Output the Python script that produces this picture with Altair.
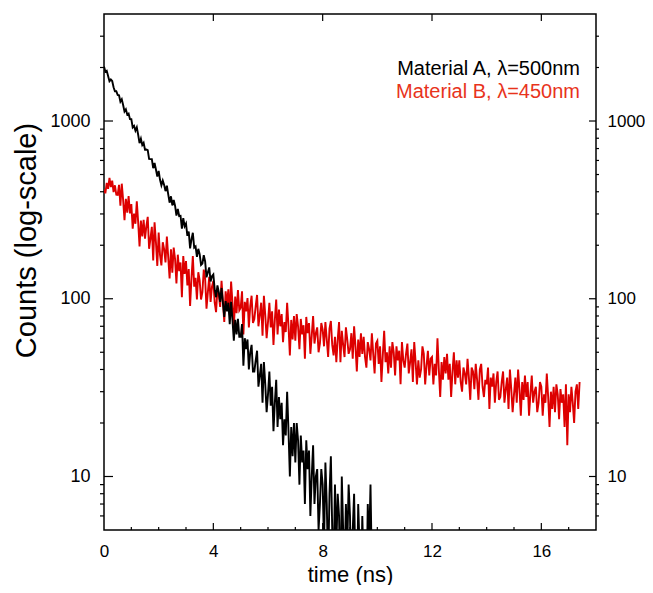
import altair as alt
import pandas as pd

# ---------------- data ----------------
TIME_STEP_NS = 0.05  # channel width of the decay histograms

# Material A, lambda = 500 nm (black), t = 0 ... 9.8 ns
black_counts = [
    2024, 1893, 1918, 1793, 1675, 1711, 1679, 1550, 1470, 1470,
    1402, 1396, 1285, 1324, 1230, 1131, 1163, 1089, 1102, 1025,
    1024, 920, 938, 882, 921, 837, 751, 795, 733, 754,
    690, 691, 686, 612, 610, 610, 543, 580, 534, 487,
    524, 467, 435, 462, 437, 403, 433, 387, 347, 377,
    335, 359, 334, 294, 320, 292, 293, 248, 284, 256,
    265, 226, 239, 192, 216, 235, 194, 197, 172, 191,
    178, 155, 158, 176, 162, 132, 141, 150, 125, 134,
    137, 113, 102, 119, 109, 96, 115, 95, 79, 97,
    85, 95, 72, 96, 76, 58, 76, 63, 77, 61,
    61, 72, 42, 60, 52, 59, 40, 50, 55, 39,
    39, 45, 51, 32, 37, 43, 26, 44, 33, 23,
    29, 39, 25, 32, 18, 26, 35, 19, 28, 21,
    26, 15, 21, 17, 30, 18, 10, 19, 13, 20,
    12, 20, 16, 9, 17, 12, 14, 7, 16, 11,
    14, 6, 10, 15, 7, 10, 11, 5, 7, 11,
    9, 4, 12, 7, 3, 8, 13, 5, 3, 9,
    4, 8, 6, 2, 10, 5, 3, 7, 4, 9,
    6, 2, 5, 8, 3, 2, 7, 4, 2, 6,
    3, 5, 2, 7, 4, 9, 3,
]

# Material B, lambda = 450 nm (red), t = 0 ... 17.4 ns
red_counts = [
    412, 392, 448, 415, 478, 425, 462, 398, 435, 385,
    384, 437, 334, 444, 360, 277, 365, 305, 378, 302,
    341, 248, 301, 264, 353, 270, 197, 275, 224, 278,
    218, 256, 289, 191, 218, 254, 164, 269, 208, 153,
    236, 176, 154, 208, 190, 160, 224, 171, 130, 190,
    140, 194, 167, 122, 177, 143, 160, 102, 174, 138,
    163, 119, 147, 91, 130, 174, 117, 131, 99, 141,
    127, 99, 109, 146, 130, 88, 109, 133, 96, 117,
    126, 95, 84, 114, 105, 90, 126, 97, 74, 110,
    93, 113, 81, 125, 95, 68, 103, 83, 112, 86,
    89, 110, 63, 96, 85, 101, 69, 91, 104, 73,
    77, 91, 105, 70, 81, 95, 62, 104, 81, 60,
    74, 95, 69, 85, 55, 76, 99, 63, 87, 70,
    82, 57, 74, 65, 95, 70, 48, 76, 59, 80,
    58, 82, 70, 52, 77, 63, 71, 46, 79, 64,
    73, 49, 62, 80, 56, 64, 69, 50, 56, 73,
    67, 54, 74, 59, 47, 68, 75, 55, 48, 61,
    44, 59, 74, 44, 66, 55, 47, 69, 59, 49,
    52, 64, 46, 70, 54, 39, 59, 47, 64, 49,
    61, 47, 41, 57, 52, 45, 64, 49, 38, 56,
    58, 43, 54, 34, 48, 66, 44, 50, 38, 54,
    41, 57, 50, 37, 54, 45, 51, 33, 57, 45,
    41, 49, 56, 38, 44, 52, 34, 57, 44, 33,
    45, 36, 40, 54, 49, 33, 42, 51, 37, 46,
    47, 33, 43, 37, 60, 40, 28, 44, 35, 47,
    38, 49, 35, 43, 28, 39, 50, 33, 45, 36,
    45, 34, 30, 41, 38, 33, 46, 36, 27, 41,
    39, 31, 43, 35, 27, 40, 43, 32, 28, 35,
    33, 41, 24, 36, 32, 38, 26, 34, 39, 27,
    28, 34, 39, 26, 31, 36, 24, 40, 31, 23,
    29, 36, 26, 40, 31, 22, 34, 27, 37, 28,
    34, 22, 29, 37, 26, 30, 32, 23, 26, 34,
    32, 22, 29, 26, 38, 28, 19, 30, 24, 32,
    23, 33, 29, 21, 31, 26, 29, 19, 33, 15,
    29, 23, 32, 26, 20, 30, 33, 24, 34,
]

series_labels = ["Material A, \u03bb=500nm", "Material B, \u03bb=450nm"]

x_major = [0, 4, 8, 12, 16]
x_major_inner = [4, 8, 12, 16]
x_minor = [1, 2, 3, 5, 6, 7, 9, 10, 11, 13, 14, 15, 17]
y_major = [10, 100, 1000]
y_minor = [6, 7, 8, 9, 20, 30, 40, 50, 60, 70, 80, 90,
           200, 300, 400, 500, 600, 700, 800, 900, 2000, 3000]

# ---------------- chart ----------------
W, H = 492, 516
FONT = "Liberation Sans"
RED_LINE = "#dd0000"
RED_TEXT = "#e8331c"

xscale = alt.Scale(domain=[0, 18], nice=False, zero=False)
yscale = alt.Scale(type="log", domain=[5, 4000], nice=False)

black_df = pd.DataFrame({
    "t": [round(i * TIME_STEP_NS, 2) for i in range(len(black_counts))],
    "counts": black_counts,
})
red_df = pd.DataFrame({
    "t": [round(i * TIME_STEP_NS, 2) for i in range(len(red_counts))],
    "counts": red_counts,
})

red = alt.Chart(red_df).mark_line(color=RED_LINE, strokeWidth=1.9, clip=True).encode(
    x=alt.X("t:Q", scale=xscale, axis=None),
    y=alt.Y("counts:Q", scale=yscale,
            axis=alt.Axis(orient="right", values=y_major, format="d", title=None,
                          labelPadding=11, labelFontSize=17)),
)

black = alt.Chart(black_df).mark_line(color="black", strokeWidth=1.9, clip=True).encode(
    x=alt.X("t:Q", scale=xscale,
            axis=alt.Axis(orient="bottom", values=x_major, format="d", title="time (ns)",
                          labelPadding=13, labelFontSize=17, labelFlush=False,
                          titleY=44, titleBaseline="middle", titleFontSize=22)),
    y=alt.Y("counts:Q", scale=yscale,
            axis=alt.Axis(orient="left", values=y_major, format="d",
                          title="Counts (log-scale)", labelPadding=14,
                          titleX=-78, titleY=226, titleAngle=270,
                          titleAlign="center", titleBaseline="middle",
                          titleFontSize=29)),
)


def yticks(vals, x0, x1):
    return alt.Chart(pd.DataFrame({"v": vals})).mark_rule(color="black", strokeWidth=1.2).encode(
        y=alt.Y("v:Q", scale=yscale, axis=None), x=alt.value(x0), x2=alt.value(x1))


def xticks(vals, y0, y1):
    return alt.Chart(pd.DataFrame({"v": vals})).mark_rule(color="black", strokeWidth=1.2).encode(
        x=alt.X("v:Q", scale=xscale, axis=None), y=alt.value(y0), y2=alt.value(y1))


ticks = [
    yticks(y_major, 0, 9),
    yticks(y_minor, -4, 0),
    yticks(y_major, W - 7, W),
    yticks(y_minor, W, W + 3),
    xticks(x_major_inner, H - 7, H),
    xticks(x_minor, H - 3, H),
    xticks(x_major_inner, 0, 7),
]

label_a = alt.Chart(pd.DataFrame({"label": [series_labels[0]]})).mark_text(
    align="right", baseline="middle", font=FONT, fontSize=20, color="black"
).encode(x=alt.value(476), y=alt.value(55), text="label:N")

label_b = alt.Chart(pd.DataFrame({"label": [series_labels[1]]})).mark_text(
    align="right", baseline="middle", font=FONT, fontSize=20, color=RED_TEXT
).encode(x=alt.value(476), y=alt.value(78), text="label:N")

chart = alt.layer(red, black, *ticks, label_a, label_b).resolve_axis(
    x="independent", y="independent"
).properties(
    width=W, height=H,
    autosize=alt.AutoSizeParams(type="none"),
    padding={"left": 96, "top": 6, "right": 49, "bottom": 55},
).configure_view(
    stroke="black", strokeWidth=1.5
).configure_axis(
    domain=False, grid=False, ticks=False, tickSize=0,
    labelFont=FONT, labelFontSize=18, labelColor="black",
    titleFont=FONT, titleFontSize=24, titleFontWeight="normal", titleColor="black",
)

chart.save("out.html", embed_options={"renderer": "svg", "actions": False})
